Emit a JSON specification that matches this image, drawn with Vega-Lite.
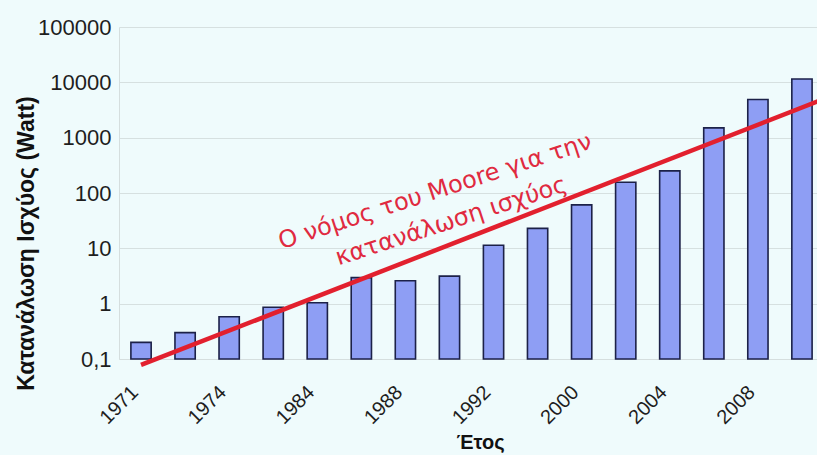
{
  "$schema": "https://vega.github.io/schema/vega-lite/v6.json",
  "autosize": "none",
  "width": 705,
  "height": 332,
  "padding": {"left": 119, "top": 27, "right": 0, "bottom": 96},
  "background": "#effbfc",
  "config": {
    "view": {"stroke": null, "fill": "#effbfc"},
    "font": "Liberation Sans"
  },
  "layer": [
    {
      "data": {"values": [
        {"year": "1971", "watt": 0.2},
        {"year": "1972", "watt": 0.3},
        {"year": "1974", "watt": 0.58},
        {"year": "1978", "watt": 0.86},
        {"year": "1984", "watt": 1.04},
        {"year": "1986", "watt": 2.95},
        {"year": "1988", "watt": 2.6},
        {"year": "1990", "watt": 3.15},
        {"year": "1992", "watt": 11.4},
        {"year": "1996", "watt": 22.9},
        {"year": "2000", "watt": 61},
        {"year": "2002", "watt": 156},
        {"year": "2004", "watt": 251},
        {"year": "2006", "watt": 1500},
        {"year": "2008", "watt": 4900},
        {"year": "2010", "watt": 11500}
      ]},
      "mark": {"type": "bar", "fill": "#8e9ef4", "stroke": "#1c2148", "strokeWidth": 1.6},
      "encoding": {
        "x": {
          "field": "year", "type": "ordinal", "sort": null,
          "scale": {
            "domain": ["1971","1972","1974","1978","1984","1986","1988","1990","1992","1996","2000","2002","2004","2006","2008","2010"],
            "paddingInner": 0.54, "paddingOuter": 0.27
          },
          "axis": {
            "title": "Έτος",
            "titleFontSize": 20, "titleFontWeight": "bold", "titleColor": "#111",
            "titleX": 361, "titleY": 83, "titleBaseline": "middle", "titleAlign": "center",
            "values": ["1971","1974","1984","1988","1992","2000","2004","2008"],
            "labelAngle": -45, "labelAlign": "right", "labelBaseline": "middle",
            "labelFontSize": 20, "labelColor": "#1e1e1e", "labelPadding": 30, "labelOffset": -6,
            "ticks": false, "domainColor": "#d5dede", "grid": false
          }
        },
        "y": {
          "field": "watt", "type": "quantitative",
          "scale": {"type": "log", "domain": [0.1, 100000]},
          "axis": {
            "title": "Κατανάλωση Ισχύος (Watt)",
            "titleFontSize": 23, "titleFontWeight": "bold", "titleColor": "#111",
            "titleX": -93, "titleY": 216, "titleAngle": 270, "titleAlign": "center", "titleBaseline": "middle",
            "values": [0.1, 1, 10, 100, 1000, 10000, 100000],
            "labelExpr": "datum.value < 1 ? '0,1' : format(datum.value, 'd')",
            "labelFontSize": 22, "labelColor": "#1e1e1e", "labelPadding": 8,
            "ticks": false, "domainColor": "#d5dede",
            "grid": true, "gridColor": "#d6e0e0", "gridWidth": 1.2
          }
        },
        "y2": {"datum": 0.1}
      }
    },
    {
      "data": {"values": [{"start": "1971", "end": "2010", "v1": 0.078, "v2": 5000}]},
      "mark": {"type": "rule", "color": "#e2202e", "strokeWidth": 4.5, "x2Offset": 22},
      "encoding": {
        "x": {"field": "start", "type": "ordinal"},
        "x2": {"field": "end"},
        "y": {"field": "v1", "type": "quantitative"},
        "y2": {"field": "v2"}
      }
    },
    {
      "data": {"values": [{"year": "1990", "v": 127, "label": "Ο νόμος του Moore για την"}]},
      "mark": {"type": "text", "font": "DejaVu Sans", "color": "#e02a40", "fontSize": 24, "angle": 342, "align": "center", "baseline": "middle", "dx": -15},
      "encoding": {
        "x": {"field": "year", "type": "ordinal"},
        "y": {"field": "v", "type": "quantitative"},
        "text": {"field": "label"}
      }
    },
    {
      "data": {"values": [{"year": "1990", "v": 29.7, "label": "κατανάλωση ισχύος"}]},
      "mark": {"type": "text", "font": "DejaVu Sans", "color": "#e02a40", "fontSize": 24, "angle": 342, "align": "center", "baseline": "middle", "dx": 2},
      "encoding": {
        "x": {"field": "year", "type": "ordinal"},
        "y": {"field": "v", "type": "quantitative"},
        "text": {"field": "label"}
      }
    }
  ]
}
